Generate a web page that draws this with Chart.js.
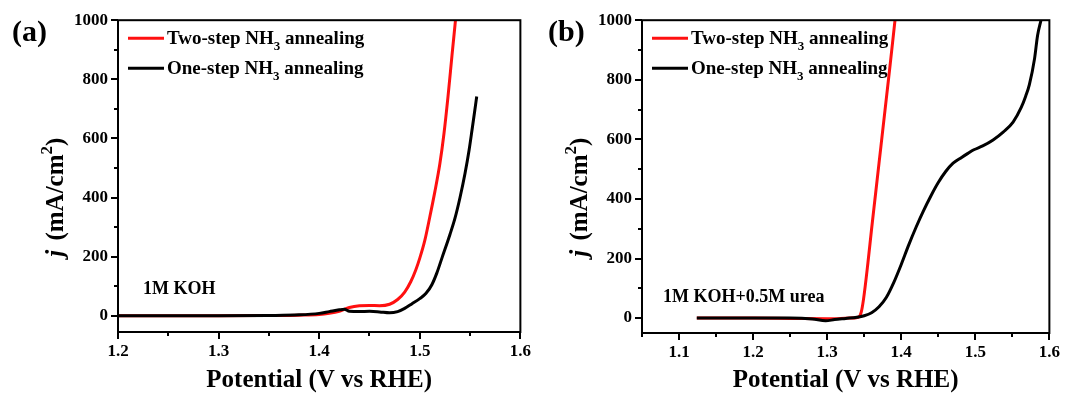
<!DOCTYPE html>
<html><head><meta charset="utf-8">
<script src="https://cdn.jsdelivr.net/npm/chart.js@4.4.1/dist/chart.umd.min.js"></script>
<style>
html,body{margin:0;padding:0;background:#fff;width:1069px;height:396px;overflow:hidden}
canvas{position:absolute;top:0;display:block}
#ca{left:0}
#cb{left:540px}
</style></head><body>
<canvas id="ca" width="540" height="396"></canvas>
<canvas id="cb" width="529" height="396"></canvas>
<script>
// ---------- data ----------
const seriesLabels = ['Two-step NH₃ annealing', 'One-step NH₃ annealing'];
const panelLabels = ['(a)', '(b)'];
const electrolytes = ['1M KOH', '1M KOH+0.5M urea'];
const xTitle = 'Potential (V vs RHE)';
const yTitle = 'j (mA/cm²)';

// panel (a): 1M KOH
const aRedX = [1.20,1.25,1.30,1.35,1.38,1.40,1.41,1.42,1.43,1.44,1.45,1.46,1.47,1.478,1.485,1.491,1.496,1.50,1.505,1.51,1.515,1.52,1.524,1.528,1.532,1.5355];
const aRedY = [0,0,0,1,2,4,8,15,28,34,35,34,39,55,80,115,155,195,255,335,420,515,615,740,880,1000];
const aBlackX = [1.20,1.30,1.35,1.38,1.40,1.41,1.42,1.425,1.43,1.44,1.45,1.46,1.47,1.478,1.485,1.492,1.50,1.506,1.512,1.517,1.522,1.53,1.535,1.54,1.545,1.549,1.552,1.5545,1.5566];
const aBlackY = [0,0,1,3,8,14,20,22,15,14,15,13,10,14,25,40,58,75,105,145,195,275,330,400,482,560,630,690,742];

// panel (b): 1M KOH + 0.5M urea
const bRedX = [1.124,1.15,1.20,1.25,1.30,1.33,1.342,1.346,1.349,1.355,1.36,1.365,1.37,1.375,1.38,1.385,1.3916];
const bRedY = [0,0,0,-1,-2,0,3,20,62,185,300,410,520,630,740,850,1000];
const bBlackX = [1.124,1.15,1.20,1.25,1.28,1.298,1.31,1.325,1.34,1.35,1.36,1.37,1.38,1.39,1.40,1.41,1.42,1.43,1.44,1.45,1.46,1.47,1.48,1.49,1.498,1.51,1.524,1.538,1.551,1.562,1.568,1.573,1.58,1.584,1.5887];
const bBlackY = [0,0,0,0,-3,-9,-5,-1,3,8,18,38,70,120,180,245,305,360,410,455,492,520,537,553,565,578,598,625,658,707,745,784,871,948,1000];

// tick labels
const aXMajor = [1.2,1.3,1.4,1.5,1.6];
const aXMinor = [1.25,1.35,1.45,1.55];
const bXMajor = [1.1,1.2,1.3,1.4,1.5,1.6];
const bXMinor = [1.05,1.15,1.25,1.35,1.45,1.55];
const yMajor = [0,200,400,600,800,1000];
const yMinor = [100,300,500,700,900];

// ---------- drawing ----------
const FONT = '"Liberation Serif", "Times New Roman", serif';
const RED = '#ff1010';
const SUB = {'₀':'0','₁':'1','₂':'2','₃':'3','₄':'4'};
const SUP = {'²':'2','³':'3'};

function drawRich(ctx, text, x, y, size, italicFirst, measureOnly) {
  let cx = x;
  const chars = [...text];
  let buf = '';
  const flush = () => {
    if (!buf) return;
    ctx.font = 'bold ' + size + 'px ' + FONT;
    if (!measureOnly) ctx.fillText(buf, cx, y);
    cx += ctx.measureText(buf).width;
    buf = '';
  };
  chars.forEach((c, i) => {
    if (i === 0 && italicFirst) {
      ctx.font = 'italic bold ' + size + 'px ' + FONT;
      if (!measureOnly) ctx.fillText(c, cx, y);
      cx += ctx.measureText(c).width + size * 0.12;
    } else if (SUB[c] || SUP[c]) {
      flush();
      const s = Math.round(size * 0.68);
      ctx.font = 'bold ' + s + 'px ' + FONT;
      const dy = SUB[c] ? size * 0.28 : -size * 0.45;
      const t = SUB[c] || SUP[c];
      if (!measureOnly) ctx.fillText(t, cx, y + dy);
      cx += ctx.measureText(t).width;
    } else {
      buf += c;
    }
  });
  flush();
  return cx - x;
}

const deco = {
  id: 'deco',
  afterDatasetsDraw(chart, args, o) {
    const ctx = chart.ctx, ca = chart.chartArea, xs = chart.scales.x, ys = chart.scales.y;
    ctx.save();
    ctx.strokeStyle = '#000';
    ctx.lineWidth = 2;
    ctx.strokeRect(ca.left, ca.top, ca.right - ca.left, ca.bottom - ca.top);
    ctx.beginPath();
    o.xMajor.forEach(v => { const p = Math.round(xs.getPixelForValue(v)); ctx.moveTo(p, ca.bottom); ctx.lineTo(p, ca.bottom + 7); });
    o.xMinor.forEach(v => { const p = Math.round(xs.getPixelForValue(v)); ctx.moveTo(p, ca.bottom); ctx.lineTo(p, ca.bottom + 4); });
    o.yMajor.forEach(v => { const p = Math.round(ys.getPixelForValue(v)); ctx.moveTo(ca.left, p); ctx.lineTo(ca.left - 7, p); });
    o.yMinor.forEach(v => { const p = Math.round(ys.getPixelForValue(v)); ctx.moveTo(ca.left, p); ctx.lineTo(ca.left - 4, p); });
    ctx.stroke();

    ctx.fillStyle = '#000';
    ctx.textAlign = 'left';
    ctx.textBaseline = 'alphabetic';
    // panel label
    ctx.font = 'bold 30px ' + FONT;
    ctx.fillText(o.panel, o.panelX, 41);
    // legend
    chart.data.datasets.forEach((ds, i) => {
      const ly = ca.top + 18 + i * 30;
      ctx.strokeStyle = ds.borderColor;
      ctx.lineWidth = 3;
      ctx.beginPath();
      ctx.moveTo(ca.left + 10, ly);
      ctx.lineTo(ca.left + 46, ly);
      ctx.stroke();
      ctx.fillStyle = '#000';
      drawRich(ctx, ds.label, ca.left + 49, ly + 6, 19, false, false);
    });
    // electrolyte annotation
    ctx.font = 'bold 18px ' + FONT;
    ctx.fillText(o.note, ca.left + o.noteDX, o.noteY);
    // x title
    const fs = 25;
    const wx = drawRich(ctx, xTitle, 0, 0, fs, false, true);
    drawRich(ctx, xTitle, (ca.left + ca.right) / 2 - wx / 2, 387, fs, false, false);
    // y title (rotated)
    ctx.save();
    ctx.translate(ca.left - 55, ca.top + 177);
    ctx.rotate(-Math.PI / 2);
    const wy = drawRich(ctx, yTitle, 0, 0, fs, true, true);
    drawRich(ctx, yTitle, -wy / 2, 0, fs, true, false);
    ctx.restore();
    ctx.restore();
  }
};

function pts(xs, ys) { return xs.map((x, i) => ({x: x, y: ys[i]})); }

function makeChart(id, c) {
  const tickFont = {family: FONT, size: 17, weight: 'bold'};
  return new Chart(document.getElementById(id), {
    type: 'line',
    data: {datasets: [
      {label: seriesLabels[0], data: pts(c.rx, c.ry), borderColor: RED, borderWidth: 3, pointRadius: 0, cubicInterpolationMode: 'monotone', order: 1},
      {label: seriesLabels[1], data: pts(c.bx, c.by), borderColor: '#000', borderWidth: 3, pointRadius: 0, cubicInterpolationMode: 'monotone', order: 0}
    ]},
    options: {
      responsive: false, animation: false, devicePixelRatio: 1,
      layout: {padding: {left: 0, right: c.padR, top: 14, bottom: 0}},
      plugins: {
        legend: {display: false}, tooltip: {enabled: false},
        deco: {xMajor: c.xMajor, xMinor: c.xMinor, yMajor: yMajor, yMinor: yMinor,
               panel: c.panel, panelX: c.panelX, note: c.note, noteDX: c.noteDX, noteY: c.noteY}
      },
      scales: {
        x: {type: 'linear', min: c.xmin, max: c.xmax,
            grid: {display: false, drawTicks: false}, border: {display: false},
            afterBuildTicks: s => { s.ticks = c.xMajor.map(v => ({value: v})); },
            afterFit: s => { s.height = c.xH; },
            ticks: {padding: 9, color: '#000', font: tickFont, maxRotation: 0, autoSkip: false,
                    callback: v => Number(v).toFixed(1)}},
        y: {type: 'linear', min: c.ymin, max: 1000,
            grid: {display: false, drawTicks: false}, border: {display: false},
            afterBuildTicks: s => { s.ticks = yMajor.map(v => ({value: v})); },
            afterFit: s => { s.width = c.yW; },
            ticks: {padding: 10, color: '#000', font: tickFont, callback: v => String(v)}}
      }
    },
    plugins: [deco]
  });
}

makeChart('ca', {rx: aRedX, ry: aRedY, bx: aBlackX, by: aBlackY, xmin: 1.2, xmax: 1.6, ymin: -55,
  xMajor: aXMajor, xMinor: aXMinor, padR: 14, yW: 118, xH: 64,
  panel: panelLabels[0], panelX: 12, note: electrolytes[0], noteDX: 25, noteY: 294});
makeChart('cb', {rx: bRedX, ry: bRedY, bx: bBlackX, by: bBlackY, xmin: 1.05, xmax: 1.6, ymin: -50,
  xMajor: bXMajor, xMinor: bXMinor, padR: 17, yW: 102, xH: 63,
  panel: panelLabels[1], panelX: 8, note: electrolytes[1], noteDX: 21, noteY: 302});
</script>
</body></html>
